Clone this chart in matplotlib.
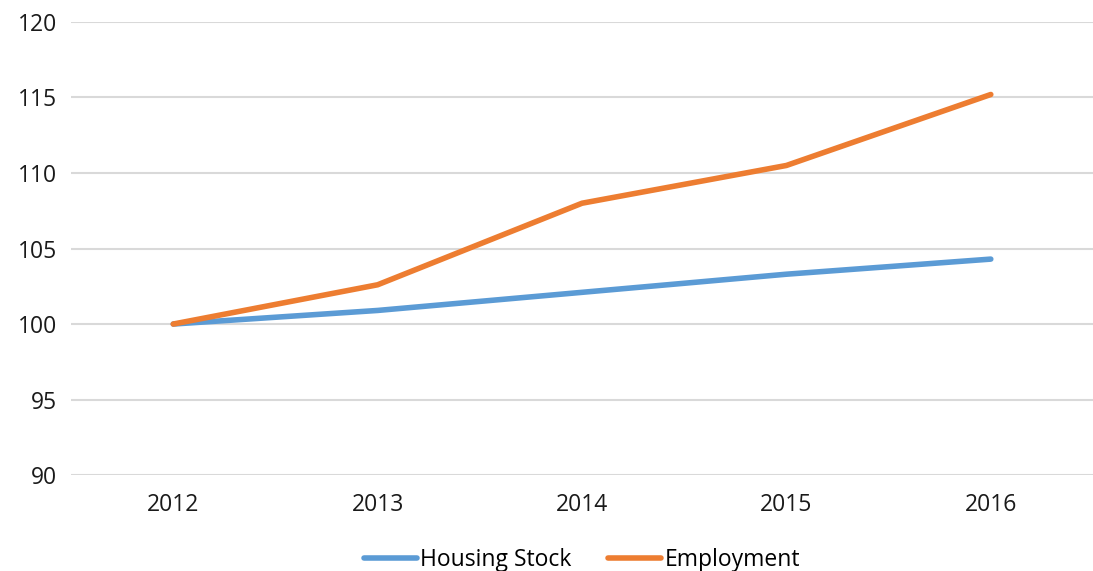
import matplotlib
matplotlib.use("Agg")
import matplotlib.pyplot as plt

# Data
years = ["2012", "2013", "2014", "2015", "2016"]
housing_stock = [100.0, 100.9, 102.1, 103.3, 104.3]
employment = [100.0, 102.6, 108.0, 110.5, 115.2]
y_ticks = [90, 95, 100, 105, 110, 115, 120]

plt.rcParams['font.family'] = ['Open Sans', 'DejaVu Sans']

fig = plt.figure(figsize=(10.93, 5.71), dpi=100)
ax = fig.add_axes([0.065, 0.168, 0.935, 0.7935])

x = list(range(len(years)))
ax.plot(x, housing_stock, color="#5B9BD5", lw=4, solid_capstyle="round", label="Housing Stock", zorder=3)
ax.plot(x, employment, color="#ED7D31", lw=4, solid_capstyle="round", label="Employment", zorder=3)

ax.set_xlim(-0.5, 4.5)
ax.set_ylim(90, 120)
ax.set_yticks(y_ticks)
ax.set_xticks(x)
ax.set_xticklabels(years)

ax.grid(axis="y", color="#D9D9D9", lw=1.5)
ax.set_axisbelow(True)
for s in ax.spines.values():
    s.set_visible(False)
ax.tick_params(length=0, labelsize=16.5, colors="#1a1a1a")
ax.tick_params(axis="y", pad=10)
ax.tick_params(axis="x", pad=13)

leg = ax.legend(loc="center", bbox_to_anchor=(0.5, -0.187), ncol=2, frameon=False,
                fontsize=16.5, handlelength=2.3, handletextpad=0.15, columnspacing=1.6,
                borderpad=0)
for h in leg.get_lines():
    h.set_solid_capstyle("round")

fig.savefig("out.png", dpi=100)
